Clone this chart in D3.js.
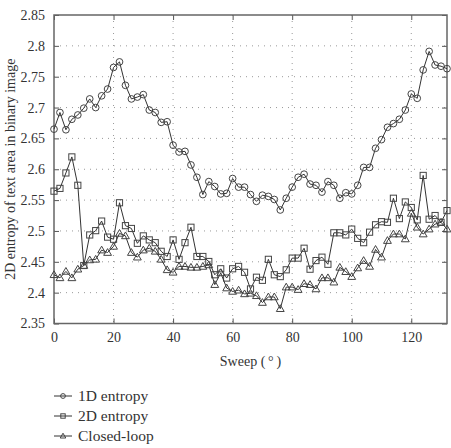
<!DOCTYPE html>
<html><head><meta charset="utf-8">
<script src="https://cdn.jsdelivr.net/npm/d3@7"></script>
<style>body{margin:0;background:#fff}svg{display:block}</style>
</head><body><div id="chart"></div>
<script>
const sweep = d3.range(0, 133, 2);
const entropy1D = [2.665,2.692,2.664,2.681,2.688,2.699,2.714,2.700,2.719,2.730,2.765,2.774,2.736,2.714,2.717,2.721,2.696,2.692,2.676,2.677,2.639,2.628,2.629,2.607,2.587,2.559,2.580,2.572,2.560,2.561,2.585,2.571,2.571,2.559,2.548,2.558,2.556,2.551,2.534,2.553,2.571,2.587,2.592,2.576,2.574,2.563,2.580,2.574,2.553,2.562,2.560,2.574,2.603,2.603,2.634,2.648,2.668,2.674,2.681,2.696,2.722,2.715,2.761,2.791,2.769,2.767,2.763];
const entropy2D = [2.5645,2.569,2.594,2.620,2.574,2.444,2.4935,2.5005,2.516,2.490,2.4866,2.5457,2.5086,2.504,2.480,2.492,2.4855,2.481,2.467,2.4586,2.4855,2.454,2.481,2.506,2.4586,2.4586,2.4505,2.429,2.4387,2.4237,2.4387,2.4425,2.433,2.406,2.425,2.420,2.454,2.429,2.426,2.437,2.456,2.456,2.472,2.438,2.452,2.4575,2.446,2.497,2.497,2.4936,2.503,2.488,2.481,2.498,2.510,2.515,2.514,2.553,2.520,2.547,2.538,2.518,2.590,2.519,2.525,2.514,2.533];
const closedLoop = [2.429,2.424,2.4344,2.424,2.438,2.444,2.453,2.454,2.469,2.465,2.475,2.496,2.492,2.465,2.4575,2.469,2.472,2.467,2.454,2.437,2.433,2.4425,2.4425,2.441,2.441,2.4425,2.445,2.413,2.432,2.4075,2.402,2.404,2.398,2.399,2.395,2.384,2.393,2.393,2.374,2.409,2.409,2.405,2.4145,2.413,2.406,2.424,2.424,2.417,2.441,2.434,2.426,2.440,2.452,2.4425,2.470,2.4575,2.4844,2.495,2.495,2.487,2.5285,2.506,2.495,2.503,2.511,2.514,2.503];
const xTicks = [0,20,40,60,80,100,120];
const yTicks = [2.35,2.4,2.45,2.5,2.55,2.6,2.65,2.7,2.75,2.8,2.85];
const seriesNames = ["1D entropy","2D entropy","Closed-loop"];
const seriesShapes = ["circle","square","triangle"];

const FONT='"Liberation Serif","DejaVu Serif",serif';
const W=451,H=448;
const svg=d3.select("#chart").append("svg").attr("width",W).attr("height",H);
const x=d3.scaleLinear().domain([0,132]).range([54,447]);
const y=d3.scaleLinear().domain([2.35,2.85]).range([323.5,15]);
const L=x.range()[0],R=x.range()[1],T=y.range()[1],B=y.range()[0];

// grid
const grid=svg.append("g").attr("stroke","#999").attr("stroke-width",1).attr("stroke-dasharray","1,5");
xTicks.filter(d=>d>0).forEach(d=>grid.append("line").attr("x1",x(d)).attr("x2",x(d)).attr("y1",T).attr("y2",B));
yTicks.filter(d=>d>2.35&&d<2.85).forEach(d=>grid.append("line").attr("x1",L).attr("x2",R).attr("y1",y(d)).attr("y2",y(d)));

// axes
const fmtY=d=>d3.format(".2f")(d).replace(/0$/,"").replace(/\.$/,"");
const ax=svg.append("g").attr("transform",`translate(0,${B})`).call(d3.axisBottom(x).tickValues(xTicks).tickSize(-5).tickPadding(9));
const axT=svg.append("g").attr("transform",`translate(0,${T})`).call(d3.axisTop(x).tickValues(xTicks).tickSize(-5).tickFormat(""));
const ay=svg.append("g").attr("transform",`translate(${L},0)`).call(d3.axisLeft(y).tickValues(yTicks).tickSize(-5).tickPadding(9).tickFormat(fmtY));
const ayR=svg.append("g").attr("transform",`translate(${R},0)`).call(d3.axisRight(y).tickValues(yTicks).tickSize(-5).tickFormat(""));
[ax,axT,ay,ayR].forEach(g=>{g.select(".domain").remove();g.attr("font-family",null);g.selectAll("line").attr("stroke","#555");g.selectAll("text").style("font-size","14px").style("fill","#333").style("font-family",FONT);});
svg.append("rect").attr("x",L).attr("y",T).attr("width",R-L).attr("height",B-T).attr("fill","none").attr("stroke","#666").attr("stroke-width",1.5);

// labels
svg.append("text").attr("x",(L+R)/2).attr("y",366).attr("text-anchor","middle").style("font-size","14px").style("font-family",FONT).style("fill","#333").text("Sweep (\u2009°\u2009)");
svg.append("text").attr("transform",`translate(15,${(T+B)/2}) rotate(-90)`).attr("text-anchor","middle").style("font-size","14px").style("font-family",FONT).style("fill","#333").text("2D entropy of text area in binary image");

// markers
function drawMarker(g,shape,cx,cy,s){
  if(shape==="circle") g.append("circle").attr("cx",cx).attr("cy",cy).attr("r",s*0.6);
  else if(shape==="square") g.append("rect").attr("x",cx-s*0.55).attr("y",cy-s*0.55).attr("width",s*1.1).attr("height",s*1.1);
  else g.append("path").attr("d",`M${cx},${cy-s*0.7}L${cx+s*0.7},${cy+s*0.5}L${cx-s*0.7},${cy+s*0.5}Z`);
}
const allSeries=[entropy1D,entropy2D,closedLoop];
const line=d3.line().x((d,i)=>x(sweep[i])).y(d=>y(d));
allSeries.forEach((vals,k)=>{
  const g=svg.append("g");
  g.append("path").datum(vals).attr("d",line).attr("fill","none").attr("stroke","#333").attr("stroke-width",1);
  const mg=g.append("g").attr("fill","none").attr("stroke","#444").attr("stroke-width",1);
  vals.forEach((v,i)=>drawMarker(mg,seriesShapes[k],x(sweep[i]),y(v),5.6));
});

// legend
seriesNames.forEach((n,k)=>{
  const yy=396+k*20;
  const g=svg.append("g");
  g.append("line").attr("x1",54).attr("x2",72).attr("y1",yy).attr("y2",yy).attr("stroke","#333").attr("stroke-width",1);
  const mg=g.append("g").attr("fill","none").attr("stroke","#444").attr("stroke-width",1);
  drawMarker(mg,seriesShapes[k],63,yy,4);
  g.append("text").attr("x",78).attr("y",yy+4.5).style("font-size","15.5px").style("font-family",FONT).style("fill","#333").text(n);
});
</script></body></html>
